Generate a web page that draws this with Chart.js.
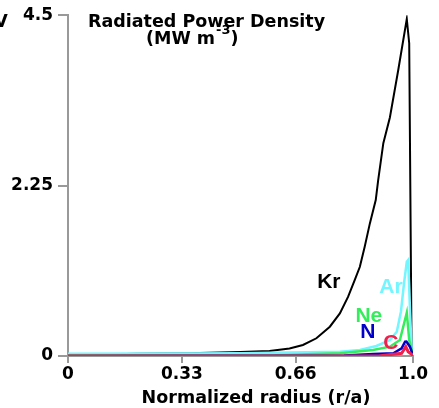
<!DOCTYPE html>
<html><head><meta charset="utf-8">
<script src="https://cdn.jsdelivr.net/npm/chart.js@4.4.1/dist/chart.umd.min.js"></script>
<style>html,body{margin:0;padding:0;background:#fff;} canvas{display:block;}</style>
</head><body>
<canvas id="c" width="439" height="408"></canvas>
<script>
// ---- data (normalized radius r/a, radiated power density MW m^-3) ----
const krRadius = [0, 0.1, 0.2, 0.35, 0.5, 0.584, 0.642, 0.681, 0.720, 0.759, 0.788, 0.812, 0.831, 0.846, 0.860, 0.875, 0.892, 0.899, 0.914, 0.933, 0.957, 0.982, 0.989, 0.996];
const krPower  = [0.02, 0.02, 0.03, 0.035, 0.053, 0.066, 0.10, 0.145, 0.234, 0.387, 0.563, 0.783, 1.003, 1.178, 1.442, 1.751, 2.059, 2.32, 2.81, 3.15, 3.77, 4.45, 4.13, 0.013];

const arRadius = [0, 0.5, 0.788, 0.846, 0.894, 0.933, 0.953, 0.965, 0.974, 0.982, 0.986, 0.991, 0.996, 1.0];
const arPower  = [0.03, 0.035, 0.057, 0.079, 0.132, 0.211, 0.321, 0.585, 0.963, 1.244, 1.267, 0.651, 0.079, 0.01];

const neRadius = [0, 0.6, 0.788, 0.884, 0.933, 0.962, 0.982, 0.989, 1.0];
const nePower  = [0.005, 0.01, 0.036, 0.079, 0.123, 0.211, 0.571, 0.211, 0.01];

const nRadius = [0, 0.8, 0.885, 0.943, 0.967, 0.977, 0.981, 0.991, 1.0];
const nPower  = [0, 0.005, 0.026, 0.036, 0.10, 0.189, 0.19, 0.123, 0.01];

const cRadius = [0, 0.9, 0.967, 0.979, 0.986, 0.997, 1.0];
const cPower  = [0, 0, 0.036, 0.123, 0.057, 0.02, 0];

const xTickValues = [0, 0.33, 0.66, 1.0];
const xTickLabels = ['0', '0.33', '0.66', '1.0'];
const yTickValues = [0, 2.25, 4.5];
const yTickLabels = ['0', '2.25', '4.5'];

// species labels, anchored in data coordinates
const speciesNames = ['Kr', 'Ar', 'Ne', 'N', 'C'];
const speciesLabelR = [0.756, 0.936, 0.872, 0.869, 0.936];
const speciesLabelV = [0.97, 0.904, 0.528, 0.31, 0.17];

const COLORS = { Kr: '#000000', Ar: '#72f6ff', Ne: '#33ee5a', N: '#0000c8', C: '#f0204c' };
const TFONT = '"DejaVu Sans", sans-serif';

function pts(rs, vs) { return rs.map((r, i) => ({ x: r, y: vs[i] })); }

const labelsPlugin = {
  id: 'labels',
  afterDraw(chart) {
    const ctx = chart.ctx;
    const xs = chart.scales.x, ys = chart.scales.y;
    ctx.save();
    // species labels
    ctx.font = 'bold 21px "Liberation Sans", Arial, sans-serif';
    ctx.textAlign = 'center';
    ctx.textBaseline = 'middle';
    speciesNames.forEach((n, i) => {
      ctx.fillStyle = COLORS[n];
      ctx.fillText(n, xs.getPixelForValue(speciesLabelR[i]), ys.getPixelForValue(speciesLabelV[i]));
    });
    // plot title (two lines, with superscript)
    ctx.fillStyle = '#000';
    ctx.textBaseline = 'alphabetic';
    ctx.textAlign = 'left';
    ctx.font = 'bold 17.5px ' + TFONT;
    ctx.fillText('Radiated Power Density', 88, 27);
    let x = 146;
    const a = '(MW m';
    ctx.fillText(a, x, 43.5);
    x += ctx.measureText(a).width;
    ctx.font = 'bold 13px ' + TFONT;
    ctx.fillText('-3', x + 1, 34);
    x += ctx.measureText('-3').width + 1;
    ctx.font = 'bold 17.5px ' + TFONT;
    ctx.fillText(')', x, 43.5);
    // clipped character at the top-left edge
    ctx.textAlign = 'center';
    ctx.fillText('V', 1, 27);
    // x axis title
    ctx.fillText('Normalized radius (r/a)', 256, 403);
    ctx.restore();
  }
};

const tickFont = { family: TFONT, weight: 'bold', size: 17 };

new Chart(document.getElementById('c'), {
  type: 'line',
  data: {
    datasets: [
      { label: 'C',  data: pts(cRadius, cPower),   borderColor: COLORS.C,  borderWidth: 3 },
      { label: 'N',  data: pts(nRadius, nPower),   borderColor: COLORS.N,  borderWidth: 2.5 },
      { label: 'Ne', data: pts(neRadius, nePower), borderColor: COLORS.Ne, borderWidth: 2.5 },
      { label: 'Ar', data: pts(arRadius, arPower), borderColor: COLORS.Ar, borderWidth: 2.5 },
      { label: 'Kr', data: pts(krRadius, krPower), borderColor: COLORS.Kr, borderWidth: 2 }
    ]
  },
  options: {
    responsive: false,
    animation: false,
    devicePixelRatio: 1,
    layout: { padding: { top: 15, right: 26, left: 0, bottom: 0 } },
    elements: { point: { radius: 0 }, line: { tension: 0, fill: false } },
    plugins: { legend: { display: false }, tooltip: { enabled: false } },
    scales: {
      x: {
        type: 'linear', min: 0, max: 1,
        afterBuildTicks: s => { s.ticks = xTickValues.map(v => ({ value: v })); },
        afterFit: s => { s.height = 52; },
        ticks: { callback: (v, i) => xTickLabels[i], font: tickFont, color: '#000', padding: 1, maxRotation: 0, autoSkip: false },
        grid: { drawOnChartArea: false, color: '#999', lineWidth: 2, tickLength: 7 },
        border: { color: '#999', width: 2 }
      },
      y: {
        type: 'linear', min: 0, max: 4.5,
        afterBuildTicks: s => { s.ticks = yTickValues.map(v => ({ value: v })); },
        afterFit: s => { s.width = 68; },
        ticks: { callback: (v, i) => yTickLabels[i], font: tickFont, color: '#000', padding: 5, autoSkip: false },
        grid: { drawOnChartArea: false, color: '#999', lineWidth: 2, tickLength: 10 },
        border: { color: '#999', width: 2 }
      }
    }
  },
  plugins: [labelsPlugin]
});
</script>
</body></html>
